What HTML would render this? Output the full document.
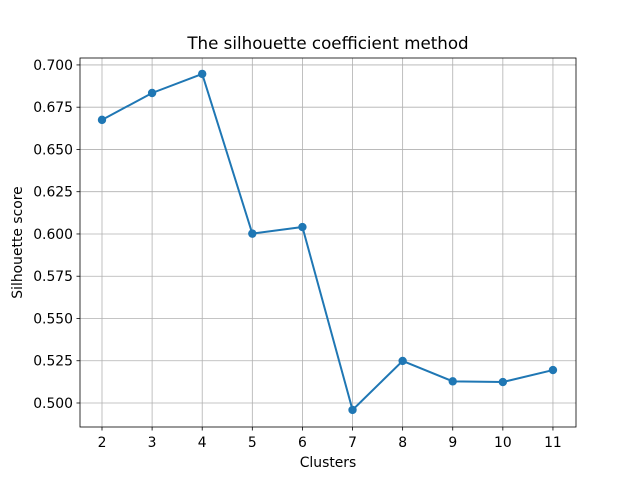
<!DOCTYPE html>
<html><head><meta charset="utf-8"><style>
body{margin:0;background:#fff;}
text{font-family:"DejaVu Sans","Liberation Sans",sans-serif;}
</style></head><body>
<svg id="chart" width="640" height="480" xmlns="http://www.w3.org/2000/svg"></svg>
<script>
const clusters=[2,3,4,5,6,7,8,9,10,11];
const scores=[0.6675,0.6834,0.6947,0.6002,0.6041,0.4959,0.5249,0.5128,0.5124,0.5195];
const yTicks=[0.500,0.525,0.550,0.575,0.600,0.625,0.650,0.675,0.700];
const xTicks=[2,3,4,5,6,7,8,9,10,11];
const L=80,R=576,T=58,B=427;
const xMin=1.561,xMax=11.46,yMin=0.4858,yMax=0.7041;
const X=v=>L+(v-xMin)/(xMax-xMin)*(R-L);
const Y=v=>B-(v-yMin)/(yMax-yMin)*(B-T);
const svg=document.getElementById('chart');
const NS='http://www.w3.org/2000/svg';
function mk(tag,attrs,parent){const e=document.createElementNS(NS,tag);for(const k in attrs)e.setAttribute(k,attrs[k]);(parent||svg).appendChild(e);return e;}
const grid=mk('g',{});


xTicks.forEach(t=>{const x=X(t);
 mk('line',{x1:x,x2:x,y1:T,y2:B,stroke:'#b0b0b0','stroke-width':0.8},grid);
 mk('line',{x1:x,x2:x,y1:B,y2:B+3.5,stroke:'#000','stroke-width':0.8});
 const tx=mk('text',{x:x,y:B+20,'font-size':13.9,'text-anchor':'middle'});tx.textContent=t;
 
 
});
yTicks.forEach(t=>{const y=Y(t);
 mk('line',{x1:L,x2:R,y1:y,y2:y,stroke:'#b0b0b0','stroke-width':0.8},grid);
 mk('line',{x1:L-3.5,x2:L,y1:y,y2:y,stroke:'#000','stroke-width':0.8});
 const tx=mk('text',{x:L-7,y:y+5,'font-size':13.9,'text-anchor':'end'});tx.textContent=t.toFixed(3);
 
 
});
const pts=clusters.map((c,i)=>X(c)+','+Y(scores[i])).join(' ');
const line=mk('polyline',{points:pts,fill:'none',stroke:'#1f77b4','stroke-width':2});


clusters.forEach((c,i)=>{const p=mk('circle',{cx:X(c),cy:Y(scores[i]),r:4.2,fill:'#1f77b4'});
 
 
});
const frame=mk('rect',{x:L,y:T,width:R-L,height:B-T,fill:'none',stroke:'#000','stroke-width':0.8});


const title=mk('text',{x:(L+R)/2,y:T-9,'font-size':16.7,'text-anchor':'middle'});title.textContent='The silhouette coefficient method';


const xl=mk('text',{x:(L+R)/2,y:467,'font-size':13.9,'text-anchor':'middle'});xl.textContent='Clusters';


const yl=mk('text',{x:0,y:0,'font-size':13.9,'text-anchor':'middle',transform:`translate(22,${(T+B)/2}) rotate(-90)`});yl.textContent='Silhouette score';


</script>
</body></html>
